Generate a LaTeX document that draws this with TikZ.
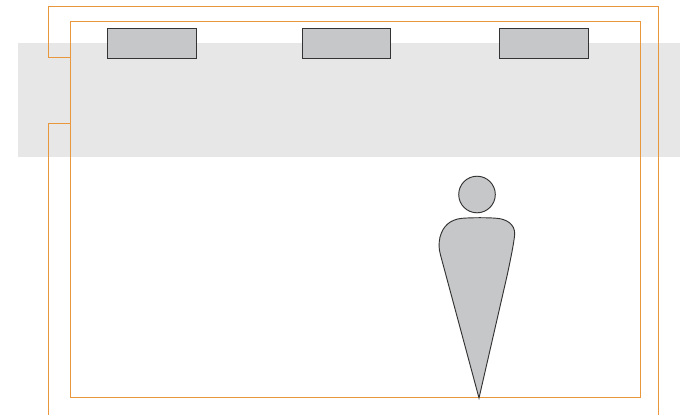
\documentclass[tikz,border=0pt]{standalone}
\definecolor{bandgray}{HTML}{E7E7E7}
\definecolor{figgray}{HTML}{C6C7C8}
\definecolor{wire}{HTML}{E9973C}
\definecolor{edge}{HTML}{333333}
\tikzset{
  wireline/.style={draw=wire,line width=0.75pt,line join=miter},
  lamp/.style={draw=edge,fill=figgray,line width=0.7pt,rectangle,minimum width=66.4pt,minimum height=22.9pt,inner sep=0pt},
  figure shape/.style={draw=edge,fill=figgray,line width=0.7pt}
}
\begin{document}
\begin{tikzpicture}[x=0.75pt,y=-0.75pt]
\useasboundingbox (0,0) rectangle (680,415);
\fill[bandgray] (18,43) rectangle (680,157);
% wall lines
\draw[wireline] (70.5,21.5) rectangle (640.5,397.5);
\draw[wireline] (70.5,57.5) -- (48.5,57.5) -- (48.5,6.5) -- (658.5,6.5) -- (658.5,415);
\draw[wireline] (70.5,123.5) -- (48.5,123.5) -- (48.5,415);
% lamps
\node[lamp] (l1) at (152,43.3) {};
\node[lamp] (l2) at (346.3,43.3) {};
\node[lamp] (l3) at (544,43.3) {};
% person
\draw[figure shape] (477,194.5) circle (18.3);
\draw[figure shape] (479,398)
  -- (440.5,255)
  .. controls (438.5,248) and (438.8,243) .. (440,237)
  .. controls (443,226) and (450,219.5) .. (462,218.3)
  .. controls (472,217.5) and (488,217.5) .. (497,218.3)
  .. controls (506,219) and (515,224) .. (514.7,234)
  .. controls (514,243) and (510,262) .. (507,276)
  -- cycle;
\end{tikzpicture}
\end{document}
